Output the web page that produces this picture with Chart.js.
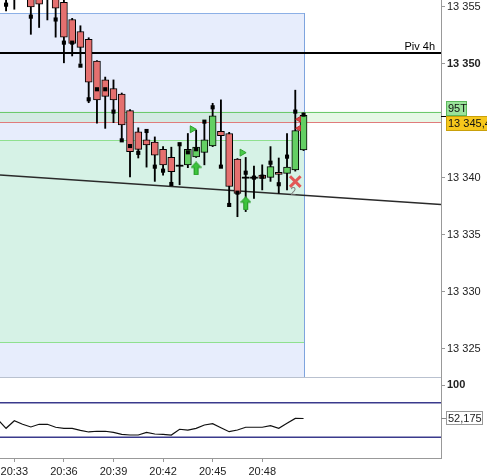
<!DOCTYPE html>
<html><head><meta charset="utf-8">
<script src="https://cdn.jsdelivr.net/npm/chart.js@4.4.1/dist/chart.umd.min.js"></script>
<style>
html,body{margin:0;padding:0;background:#fff;width:487px;height:476px;overflow:hidden}
#c1{position:absolute;left:0;top:0}
#c2{position:absolute;left:0;top:377px}
</style></head><body>
<canvas id="c1" width="487" height="377"></canvas>
<canvas id="c2" width="487" height="99"></canvas>
<script>
// ---------------- DATA ----------------
const candleTimes = ['20:32:30','20:33:00','20:33:30','20:34:00','20:34:30','20:35:00','20:35:30','20:36:00','20:36:30','20:37:00','20:37:30','20:38:00','20:38:30','20:39:00','20:39:30','20:40:00','20:40:30','20:41:00','20:41:30','20:42:00','20:42:30','20:43:00','20:43:30','20:44:00','20:44:30','20:45:00','20:45:30','20:46:00','20:46:30','20:47:00','20:47:30','20:48:00','20:48:30','20:49:00','20:49:30','20:50:00','20:50:30'];
const opens  = [13357.5,13356.0,13356.9,13357.2,13356.4,13356.9,13356.4,13355.4,13353.9,13352.85,13352.15,13350.25,13348.6,13347.85,13347.35,13345.9,13344.05,13343.35,13343.15,13342.5,13341.8,13341.1,13341.15,13341.85,13342.25,13342.8,13344.1,13343.9,13341.65,13340.05,13340.05,13340.25,13340.05,13340.5,13340.4,13340.7,13342.45];
const highs  = [13358.0,13357.8,13358.5,13357.6,13356.8,13357.3,13356.9,13355.7,13354.0,13353.35,13352.3,13350.3,13348.85,13348.6,13347.45,13346.0,13344.4,13344.25,13343.6,13342.75,13342.7,13343.05,13343.9,13344.2,13344.95,13346.55,13346.85,13344.0,13341.7,13341.8,13341.05,13341.15,13342.75,13341.75,13343.9,13347.7,13345.7];
const lows   = [13354.65,13354.8,13356.2,13352.6,13353.2,13353.86,13352.35,13350.1,13350.7,13350.05,13346.6,13344.8,13344.35,13344.85,13343.2,13340.1,13341.75,13340.95,13339.7,13340.25,13339.45,13339.4,13340.9,13341.8,13341.15,13342.75,13341.0,13337.65,13336.6,13337.05,13338.2,13338.95,13339.7,13338.65,13338.95,13340.6,13342.4];
const closes = [13356.0,13356.9,13357.6,13355.0,13355.25,13356.1,13354.9,13352.35,13351.8,13351.45,13348.4,13346.85,13347.15,13346.85,13344.65,13342.3,13342.5,13342.9,13342.0,13341.15,13340.55,13341.05,13342.5,13342.7,13343.35,13345.45,13343.7,13339.25,13338.65,13340.0,13340.0,13339.95,13341.0,13340.3,13340.95,13344.15,13345.5];
const markerValues = [13355.2,null,null,13354.15,null,null,13353.9,13351.87,13351.87,13349.85,13346.9,13347.78,13347.78,13345.82,13343.3,13342.8,13342.2,13344.12,13340.99,13340.64,13339.47,13342.96,13342.25,13342.52,13344.94,13346.2,13340.99,13337.63,13338.71,13340.46,13340.03,13340.11,13341.34,13339.45,13341.87,13345.82,13345.55];

const oscTimes  = ['20:32:00'].concat(candleTimes);
const oscValues = [50.7,38.0,49.0,43.8,39.9,43.8,43.8,39.5,38.0,38.0,35.1,32.7,33.7,33.7,32.2,29.3,28.3,28.3,32.2,29.8,29.3,28.3,36.6,35.5,38.0,42.8,44.7,38.9,33.1,35.5,39.5,39.5,39.5,41.8,38.0,45.2,52.2,52.175];
const oscLevels = [75, 25];
const oscTicks  = [100];

const priceTicks = [13355,13350,13340,13335,13330,13325];
const timeTicks  = ['20:33','20:36','20:39','20:42','20:45','20:48'];

const pivotLevel = 13350.92;        // "Piv 4h"
const pivotLabel = 'Piv 4h';
const blueZone   = [13354.47, 13320.0];
const greenZone  = [13343.33, 13325.6];
const zoneEnd    = '20:50:33';
const bandLevels = [13345.82, 13344.88];  // green line / red line
const lastPrice  = 13345.45;
const bandLabel  = '95T';
const trendTimes  = ['20:32:08','20:58:49'];
const trendValues = [13340.26, 13337.67];
const upArrowTimes  = ['20:44:00','20:47:00'];
const upArrowValues = [13340.83, 13337.78];
const triTimes  = ['20:43:46','20:46:47'];
const triValues = [13344.27, 13342.22];
const redTriTimes  = ['20:50:13','20:50:13'];
const redTriValues = [13345.15, 13344.36];
const crossTimes  = ['20:50:00'];
const crossValues = [13339.68];
const crossLabel  = '2';
const viewStart = '20:32:08';
const viewEnd   = '20:58:49';
const priceMin = 13322.54, priceMax = 13355.61;
const oscMin = -4.9, oscMax = 112.1;

// ---------------- HELPERS ----------------
function toMin(s){const p=s.split(':').map(Number);return (p[0]-20)*60+p[1]+(p[2]||0)/60;}
function fmtPrice(v){const parts=String(v).split('.');return parts[0].replace(/\B(?=(\d{3})+(?!\d))/g,' ')+(parts[1]?','+parts[1]:'');}
const FONT='"Liberation Sans", Arial, sans-serif';
const FS=11;
Chart.defaults.font.family=FONT;
Chart.defaults.font.size=FS;
Chart.defaults.color='#222';
const xMin=toMin(viewStart), xMax=toMin(viewEnd);

function makeArrow(){
  const c=document.createElement('canvas');c.width=11;c.height=14;
  const g=c.getContext('2d');
  g.beginPath();g.moveTo(5.5,0.5);g.lineTo(10.5,6);g.lineTo(7.5,6);g.lineTo(7.5,13.5);g.lineTo(3.5,13.5);g.lineTo(3.5,6);g.lineTo(0.5,6);g.closePath();
  g.fillStyle='#3cc43c';g.fill();g.strokeStyle='#239423';g.lineWidth=1;g.stroke();
  return c;
}
const arrowImg=makeArrow();

function hline(ctx,x1,x2,y,color,w){ctx.beginPath();ctx.strokeStyle=color;ctx.lineWidth=w||1;const yy=(w&&w%2===0)?Math.round(y):Math.round(y)+0.5;ctx.moveTo(x1,yy);ctx.lineTo(x2,yy);ctx.stroke();}
function vline(ctx,x,y1,y2,color){ctx.beginPath();ctx.strokeStyle=color;ctx.lineWidth=1;const xx=Math.round(x)+0.5;ctx.moveTo(xx,y1);ctx.lineTo(xx,y2);ctx.stroke();}

const zonePlugin={
  id:'zones',
  beforeDatasetsDraw(chart){
    const {ctx,chartArea:a,scales:{x,y}}=chart;
    ctx.save();
    ctx.beginPath();ctx.rect(a.left,a.top,a.right-a.left,a.bottom-a.top);ctx.clip();
    const xr=x.getPixelForValue(toMin(zoneEnd));
    const yb=y.getPixelForValue(blueZone[0]), yb2=y.getPixelForValue(blueZone[1]);
    ctx.fillStyle='#e7edfc';ctx.fillRect(a.left,yb,xr-a.left,yb2-yb);
    const g1=y.getPixelForValue(greenZone[0]), g2=y.getPixelForValue(greenZone[1]);
    ctx.fillStyle='#d6f2e6';ctx.fillRect(a.left,g1,xr-a.left,g2-g1);
    hline(ctx,a.left,xr,yb,'#8cb0e6');
    hline(ctx,a.left,xr,g1,'#8fe08f');
    hline(ctx,a.left,xr,g2,'#8fe08f');
    vline(ctx,xr,yb,a.bottom,'#7ea4de');
    const b1=y.getPixelForValue(bandLevels[0]), b2=y.getPixelForValue(bandLevels[1]);
    ctx.fillStyle='rgba(140,225,140,0.22)';ctx.fillRect(a.left,b1,a.right-a.left,b2-b1);
    hline(ctx,a.left,a.right,b1,'#6cc96c');
    hline(ctx,a.left,a.right,b2,'#e07b7b');
    const p=y.getPixelForValue(pivotLevel);
    hline(ctx,a.left,a.right,p,'#000',2);
    ctx.fillStyle='#000';ctx.font=FS+'px '+FONT;ctx.textAlign='right';ctx.textBaseline='bottom';
    ctx.fillText(pivotLabel,a.right-6,p-1);
    ctx.restore();
  },
  afterDraw(chart){
    const {ctx,chartArea:a,scales:{x,y}}=chart;
    ctx.save();
    const cx=x.getPixelForValue(toMin(crossTimes[0])), cy=y.getPixelForValue(crossValues[0]);
    ctx.fillStyle='#777';ctx.font='10px '+FONT;ctx.textAlign='center';ctx.textBaseline='middle';
    ctx.fillText(crossLabel,cx-2,cy+11);
    const ly=Math.round(y.getPixelForValue(lastPrice));
    const L=a.right+5;
    ctx.fillStyle='#9be39b';ctx.fillRect(L,ly-15,21,15);
    ctx.strokeStyle='#5cb85c';ctx.lineWidth=1;ctx.strokeRect(L+0.5,ly-15+0.5,20,14);
    ctx.fillStyle='#f6c71c';ctx.fillRect(L,ly,60,15);
    ctx.strokeStyle='#c9a00a';ctx.strokeRect(L+0.5,ly+0.5,60,14);
    ctx.fillStyle='#111';ctx.font=FS+'px '+FONT;ctx.textAlign='left';ctx.textBaseline='middle';
    ctx.fillText(bandLabel,L+2,ly-7);
    ctx.fillText(fmtPrice(lastPrice),L+2,ly+8);
    hline(ctx,a.right,a.right+5,ly,'#000');
    ctx.restore();
  }
};

const candleX=candleTimes.map(toMin);
const bodyData=candleX.map((t,i)=>{let lo=Math.min(opens[i],closes[i]),hi=Math.max(opens[i],closes[i]);if(hi-lo<0.1){const m=(hi+lo)/2;lo=m-0.05;hi=m+0.05;}return {x:t,y:[lo,hi]};});
const isDoji=i=>Math.abs(opens[i]-closes[i])<0.12;

new Chart(document.getElementById('c1'),{
  type:'bar',
  data:{datasets:[
    {type:'line',data:trendTimes.map((t,i)=>({x:toMin(t),y:trendValues[i]})),borderColor:'#2a2a2a',borderWidth:1.5,pointRadius:0,order:10},
    {type:'bar',data:candleX.map((t,i)=>({x:t,y:[lows[i],highs[i]]})),backgroundColor:'#000',borderWidth:0,barThickness:1.2,grouped:false,order:5},
    {type:'bar',data:bodyData,
      backgroundColor:c=>{const i=c.dataIndex;if(isDoji(i))return '#000';return closes[i]>=opens[i]?'#63cf63':'#e5706f';},
      borderColor:'#000',borderWidth:c=>isDoji(c.dataIndex)?0:1,borderSkipped:false,barThickness:7,grouped:false,order:4},
    {type:'scatter',data:candleX.map((t,i)=>({x:t,y:markerValues[i]})),pointStyle:'rect',pointRadius:2.9,pointBackgroundColor:'#000',pointBorderWidth:0,order:3},
    {type:'scatter',data:upArrowTimes.map((t,i)=>({x:toMin(t),y:upArrowValues[i]})),pointStyle:arrowImg,order:2},
    {type:'scatter',data:triTimes.map((t,i)=>({x:toMin(t),y:triValues[i]})),pointStyle:'triangle',rotation:90,pointRadius:4,pointBackgroundColor:'#48cc48',pointBorderColor:'#2f9f2f',pointBorderWidth:1,order:2},
    {type:'scatter',data:redTriTimes.map((t,i)=>({x:toMin(t),y:redTriValues[i]})),pointStyle:'triangle',rotation:-90,pointRadius:3.2,pointBackgroundColor:'#e04a4a',pointBorderColor:'#c03030',pointBorderWidth:1,order:1},
    {type:'scatter',data:crossTimes.map((t,i)=>({x:toMin(t),y:crossValues[i]})),pointStyle:'crossRot',pointRadius:7.5,pointBorderColor:'#e25757',pointBorderWidth:3,order:1}
  ]},
  options:{
    responsive:false,animation:false,events:[],devicePixelRatio:1,
    layout:{padding:0,autoPadding:false},
    plugins:{legend:{display:false},tooltip:{enabled:false}},
    scales:{
      x:{type:'linear',display:false,min:xMin,max:xMax,offset:false},
      y:{type:'linear',position:'right',min:priceMin,max:priceMax,
        afterBuildTicks:ax=>{ax.ticks=priceTicks.map(v=>({value:v}));},
        afterFit:ax=>{ax.width=46;ax.paddingTop=0;ax.paddingBottom=0;},
        ticks:{padding:2,color:'#222',callback:v=>fmtPrice(v),font:c=>({family:FONT,size:FS,weight:c.tick&&c.tick.value===13350?'bold':'normal'})},
        grid:{drawOnChartArea:false,drawTicks:true,tickLength:4,tickColor:'#999'},
        border:{display:true,color:'#999',width:1}}
    }
  },
  plugins:[zonePlugin]
});

const oscPlugin={
  id:'osc',
  beforeDatasetsDraw(chart){
    const {ctx,chartArea:a}=chart;
    ctx.save();hline(ctx,a.left,a.right,a.top,'#b9c1cf');ctx.restore();
  },
  afterDraw(chart){
    const {ctx,chartArea:a,scales:{y}}=chart;
    const v=oscValues[oscValues.length-1];
    const py=Math.round(y.getPixelForValue(v));
    ctx.save();
    hline(ctx,a.right,a.right+5,py,'#888');
    ctx.fillStyle='#fff';ctx.fillRect(a.right+5,py-7,36,14);
    ctx.strokeStyle='#999';ctx.lineWidth=1;ctx.strokeRect(a.right+5.5,py-6.5,36,13);
    ctx.fillStyle='#222';ctx.font=FS+'px '+FONT;ctx.textAlign='left';ctx.textBaseline='middle';
    ctx.fillText(v.toFixed(3).replace('.',','),a.right+7,py+0.5);
    ctx.restore();
  }
};

new Chart(document.getElementById('c2'),{
  type:'line',
  data:{datasets:[
    ...oscLevels.map(l=>({data:[{x:xMin,y:l},{x:xMax,y:l}],borderColor:'#3a3a8c',borderWidth:1.5,pointRadius:0})),
    {data:oscTimes.map((t,i)=>({x:toMin(t),y:oscValues[i]})),borderColor:'#111',borderWidth:1.2,pointRadius:0,tension:0}
  ]},
  options:{
    responsive:false,animation:false,events:[],devicePixelRatio:1,
    layout:{padding:0,autoPadding:false},
    plugins:{legend:{display:false},tooltip:{enabled:false}},
    scales:{
      x:{type:'linear',min:xMin,max:xMax,offset:false,
        afterBuildTicks:ax=>{ax.ticks=timeTicks.map(s=>({value:toMin(s+':00')}));},
        afterFit:ax=>{ax.height=18;ax.paddingLeft=0;ax.paddingRight=0;},
        ticks:{padding:3,autoSkip:false,maxRotation:0,color:'#222',callback:v=>{const m=Math.round(v);return (20+Math.floor(m/60))+':'+String(m%60).padStart(2,'0');}},
        grid:{drawOnChartArea:false,tickLength:4,tickColor:'#999'},
        border:{display:true,color:'#999'}},
      y:{type:'linear',position:'right',min:oscMin,max:oscMax,
        afterBuildTicks:ax=>{ax.ticks=oscTicks.map(v=>({value:v}));},
        afterFit:ax=>{ax.width=46;ax.paddingTop=0;ax.paddingBottom=0;},
        ticks:{padding:2,color:'#222',font:{family:FONT,size:FS,weight:'bold'}},
        grid:{drawOnChartArea:false,tickLength:4,tickColor:'#999'},
        border:{display:true,color:'#999'}}
    }
  },
  plugins:[oscPlugin]
});
</script>
</body></html>
